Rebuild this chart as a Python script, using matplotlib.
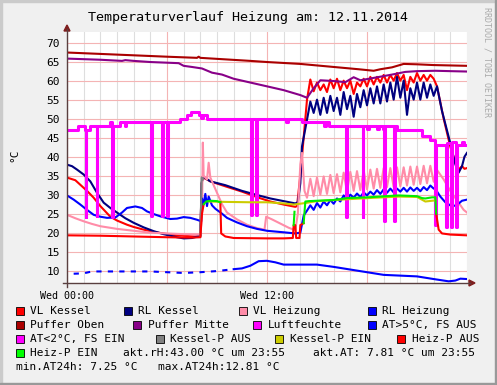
import matplotlib
matplotlib.use("Agg")
import matplotlib.pyplot as plt
import numpy as np
from matplotlib.patches import Rectangle, Polygon
from matplotlib.lines import Line2D
from matplotlib.ticker import MultipleLocator, FixedLocator

plt.rcParams['font.family'] = ['DejaVu Sans Mono']

W, H = 497, 385

# ---- data (hours since Wed 00:00, degrees C / %) ----
vl_kessel_t = [0, 0.5, 0.8, 1.2, 1.6, 2.0, 2.6, 3.0, 3.6, 4.0, 4.6, 5.2, 6.2, 7.0, 7.6, 8.0,
               8.08, 8.15, 8.4, 8.6, 9.5, 10.5, 11.5, 12.2, 13.0, 13.7, 13.8, 14.0, 14.2, 14.4]
vl_kessel_v = [34.5, 33.8, 32.6, 31.0, 29.2, 27.0, 24.2, 23.2, 22.1, 21.5, 20.8, 20.2, 19.5, 19.2, 19.0, 19.0,
               33.0, 34.5, 34.0, 33.5, 32.2, 30.8, 29.2, 28.2, 27.4, 26.8, 27.0, 35.0, 45.0, 55.0]
vl_kessel_noisy = [60.3, 57.2, 59.5, 57.5, 59.0, 57.0, 60.3, 58.0, 60.5, 57.5, 60.0, 58.0, 60.0,
                   56.5, 59.5, 58.5, 60.5, 58.5, 61.0, 59.0, 61.0, 59.5, 61.5, 59.5, 61.5, 60.0,
                   62.0, 60.0, 61.5, 57.5, 61.0, 59.5, 62.0, 60.0, 61.5, 60.0, 61.5, 60.5, 58.5]
vl_kessel_tail_t = [22.6, 23.0, 23.3, 23.5, 23.7, 23.85, 24.0]
vl_kessel_tail_v = [50.0, 42.6, 38.5, 36.6, 37.5, 36.8, 37.0]

rl_kessel_t = [0, 0.3, 0.6, 1.0, 1.4, 1.8, 2.2, 2.6, 3.0, 3.5, 4.0, 4.6, 5.2, 5.8, 6.6, 7.0, 7.5, 8.0,
               8.08, 8.15, 8.6, 9.5, 10.5, 11.5, 12.2, 13.0, 13.7, 13.85, 14.0, 14.1, 14.4]
rl_kessel_v = [37.9, 37.5, 36.6, 35.3, 33.5, 30.5, 27.9, 26.5, 25.3, 23.8, 22.6, 21.4, 20.4, 19.6, 18.8, 18.5, 18.6, 19.2,
               33.0, 34.8, 33.5, 32.5, 31.0, 29.8, 29.0, 28.3, 27.7, 28.0, 33.0, 42.7, 49.7]
rl_kessel_noisy = [54.5, 51.5, 55.0, 51.0, 55.5, 51.5, 56.0, 52.0, 55.5, 51.0, 57.0, 52.5, 56.0,
                   50.5, 56.5, 53.0, 57.5, 53.5, 58.0, 54.0, 58.5, 54.0, 59.0, 54.5, 59.5, 55.0,
                   61.0, 55.5, 60.0, 51.0, 58.0, 55.0, 59.5, 55.0, 59.5, 55.5, 59.0, 56.0, 58.5]
rl_kessel_tail_t = [22.5, 23.0, 23.3, 23.5, 23.7, 23.85, 24.0]
rl_kessel_tail_v = [52.0, 43.5, 38.0, 35.8, 37.5, 40.0, 41.0]
kessel_noisy_t = np.arange(14.6, 22.21, 0.2)

vl_heiz_t = [0, 0.5, 1, 1.5, 2, 3, 4, 5, 6, 7, 8.0, 8.1, 8.15, 8.2, 8.3, 8.4, 8.5, 8.6, 8.8, 9.0, 9.3,
             9.6, 10.2, 10.8, 11.4, 11.85, 11.95, 12.3, 12.8, 13.3, 13.6, 13.7, 13.85, 14.0, 14.1, 14.25]
vl_heiz_v = [24.7, 23.8, 23.0, 22.3, 21.7, 21.0, 20.5, 20.0, 19.8, 19.6, 19.5, 25.0, 43.7, 35.0, 34.5, 34.0, 38.4, 34.5, 32.5, 30.5, 27.5,
             25.3, 23.5, 22.1, 21.2, 20.8, 24.2, 23.5, 22.4, 21.3, 20.8, 20.8, 25.0, 38.0, 41.0, 31.0]
vl_heiz_noisy = [29.2, 34.2, 29.6, 34.5, 30.0, 34.8, 30.2, 35.2, 30.4, 35.4, 30.6, 35.8, 30.8,
                 36.0, 31.0, 36.2, 31.2, 36.4, 31.4, 36.6, 31.6, 36.8, 31.8, 37.0, 32.0, 37.0,
                 32.0, 37.2, 32.2, 37.2, 32.4, 37.4, 32.6, 37.4, 32.8, 37.6, 33.0, 37.6, 33.4]
vl_heiz_tail_t = [22.2, 22.6, 23.0, 23.4, 23.8, 24.0]
vl_heiz_tail_v = [36.5, 34.0, 31.0, 28.5, 26.0, 25.3]

rl_heiz_t = [0, 0.4, 0.8, 1.2, 1.6, 2.0, 2.4, 2.9, 3.3, 3.6, 4.1, 4.5, 4.8, 5.2, 5.6, 6.2, 6.6, 7.0, 7.4, 7.8,
             8.05, 8.1, 8.2, 8.3, 8.4, 8.5, 8.7, 8.9, 9.3, 9.6, 10.2, 10.8, 11.4, 12.0, 13.0, 13.7, 14.0, 14.2]
rl_heiz_v = [29.8, 28.7, 27.4, 26.0, 24.7, 24.2, 23.9, 24.0, 25.3, 26.5, 26.9, 26.5, 25.6, 24.9, 24.3, 23.6, 23.7, 24.1, 23.9, 23.4,
             23.0, 29.0, 27.5, 30.2, 27.0, 29.5, 27.2, 26.3, 25.0, 23.9, 22.7, 21.7, 21.0, 20.5, 20.1, 19.8, 20.0, 24.5]
rl_heiz_noisy = [25.8, 27.2, 26.0, 27.8, 26.6, 28.2, 27.2, 28.6, 27.6, 29.0, 28.2, 29.8, 28.8,
                 30.0, 29.2, 30.3, 29.4, 30.6, 29.8, 30.8, 30.0, 31.2, 30.2, 31.4, 30.5, 31.6,
                 30.6, 31.6, 30.8, 31.8, 30.8, 31.9, 31.0, 31.8, 30.9, 32.0, 31.2, 32.4, 31.6]
rl_heiz_tail_t = [22.1, 22.4, 22.7, 23.1, 23.4, 23.7, 24.0]
rl_heiz_tail_v = [31.5, 29.5, 28.0, 26.9, 27.3, 28.4, 28.7]
heiz_noisy_t = np.arange(14.4, 22.01, 0.2)

puffer_oben_t = [0, 6, 7.8, 7.9, 8.0, 11, 12, 14, 16, 17.5, 18.4, 18.8, 19.5, 20.2, 21, 22, 23, 24]
puffer_oben_v = [67.4, 66.3, 66.0, 66.3, 66.0, 65.2, 64.9, 64.4, 63.6, 63.0, 62.6, 63.0, 63.5, 64.4, 64.3, 64.1, 64.0, 63.9]

puffer_mitte_t = [0, 2, 3.3, 3.5, 4, 5, 6.7, 7.0, 7.5, 8.1, 8.7, 9.3, 10, 11, 12.2, 13, 14.0, 14.4, 14.8,
                  15.2, 16.0, 16.7, 17.2, 17.6, 18.5, 19.5, 20.3, 21, 22.1, 23, 24]
puffer_mitte_v = [65.8, 65.5, 65.2, 65.4, 65.2, 64.9, 64.6, 63.9, 63.6, 63.2, 62.1, 61.6, 60.5, 59.5, 58.3, 57.5, 56.2, 55.5, 58.0,
                  60.1, 59.9, 59.6, 60.9, 60.1, 60.8, 61.6, 62.3, 62.5, 62.6, 62.5, 62.4]

luft_t = [0, 0.65, 1.1, 1.12, 1.16, 1.4, 1.78, 1.82, 2.55, 2.7, 2.72, 2.76, 3.2, 3.45, 3.55, 5.05, 5.09,
          5.7, 5.74, 6.0, 6.04, 6.8, 7.2, 7.45, 7.9, 8.05, 8.15, 8.4, 11.05, 11.09, 11.35, 11.39, 13.15, 13.25,
          14.1, 15.45, 15.55, 15.7, 16.75, 16.79, 17.75, 17.79, 18.0, 18.1, 18.6, 18.7, 18.95, 19.05, 19.09,
          19.65, 19.69, 19.8, 21.3, 21.8, 22.1, 22.14, 22.75, 22.79, 23.05, 23.09, 23.35, 23.39, 23.7, 23.8, 24.0]
luft_v = [47, 48, 47, 24, 47, 48, 24.3, 48, 49, 48, 24, 48, 49, 48, 49, 24.3, 49,
          24.3, 49, 24.3, 49, 50, 51, 51.8, 51, 50.2, 51, 50, 24.7, 50, 24.7, 50, 49, 50,
          49, 48, 49, 48, 24, 48, 24, 48, 47.2, 48, 47.2, 48, 47.2, 23.2, 48,
          23.2, 48, 47, 45.5, 44.5, 22.1, 43.2, 21.6, 43.5, 21.6, 43.8, 21.6, 43.2, 43.8, 43.0, 43.0]

at_t = [0.4, 1.0, 1.5, 3, 4, 5, 6, 7, 8, 9, 10, 10.5, 11, 11.5, 12.0, 12.5, 13, 14, 15, 16, 17, 18,
        19, 20, 21, 22, 22.9, 23.3, 23.6, 24]
at_v = [9.2, 9.3, 9.8, 9.8, 9.8, 9.8, 9.6, 9.4, 9.6, 9.9, 10.4, 10.6, 11.3, 12.5, 12.6, 12.2, 11.6, 11.6, 11.6, 11.0, 10.3, 9.6,
        8.9, 8.7, 8.5, 7.8, 7.2, 7.4, 7.9, 7.8]

kessel_p_aus_t = [8.0, 8.08, 8.15]
kessel_p_aus_v = [19.0, 34.5, 34.0]

kessel_p_ein_t = [8.5, 9.5, 11.0, 12.0, 13.0, 13.6, 14.3, 15.0, 16.8, 18.5, 19.9, 21.0, 21.5, 22.1]
kessel_p_ein_v = [28.2, 28.1, 28.0, 28.0, 27.7, 27.4, 27.8, 28.3, 28.8, 29.2, 29.5, 29.4, 28.2, 28.5]

heiz_p_aus_t = [0, 2, 4, 6, 7.5, 8.0, 8.1, 8.2, None, 9.2, 9.25, 9.5, 10, 12, 13.0, 13.55, 13.6, 13.65, None,
                13.7, 13.75, 13.95, 14.0, 14.2, None, 22.15, 22.3, 22.5, 23, 24]
heiz_p_aus_v = [19.3, 19.2, 19.0, 18.8, 18.7, 18.8, 25.0, 27.5, None, 28.0, 19.8, 19.0, 18.6, 18.5, 18.5, 18.6, 22.0, 22.0, None,
                21.8, 18.6, 18.6, 22.0, 22.5, None, 25.0, 20.8, 19.8, 19.5, 19.3]

heiz_p_ein_t = [8.2, 8.35, 8.6, 9.0, 9.2, None, 13.6, 13.65, None, 14.2, 14.3, 14.5, 16.0, 16.8, 18.0, 19.9,
                21.0, 21.3, 21.5, 21.9, 22.1, 22.15]
heiz_p_ein_v = [27.5, 28.2, 28.4, 28.3, 28.0, None, 22.0, 25.5, None, 22.5, 28.2, 28.3, 28.6, 29.1, 29.3, 29.8,
                29.6, 29.1, 29.0, 29.3, 29.3, 25.0]

rh_now = 43.00
at_now = 7.81
at_min = 7.25
at_max = 12.81

C_VLK = '#ff0000'
C_RLK = '#000080'
C_VLH = '#ff8ca8'
C_RLH = '#0000ff'
C_PO = '#aa0000'
C_PM = '#880088'
C_LF = '#ff00ff'
C_KPA = '#808080'
C_KPE = '#cccc00'
C_HPE = '#00ee00'


def seg(t, v):
    t = np.array([np.nan if a is None else a for a in t], dtype=float)
    v = np.array([np.nan if a is None else a for a in v], dtype=float)
    return t, v


fig = plt.figure(figsize=(W / 100, H / 100), dpi=100, facecolor='#f0f0f0')
ax = fig.add_axes([67 / W, 102 / H, 400 / W, 251 / H])
ax.set_facecolor('white')

lw = 1.5
ax.plot(np.concatenate([vl_kessel_t, kessel_noisy_t, vl_kessel_tail_t]),
        np.concatenate([vl_kessel_v, vl_kessel_noisy, vl_kessel_tail_v]), color=C_VLK, lw=lw)
ax.plot(np.concatenate([rl_kessel_t, kessel_noisy_t, rl_kessel_tail_t]),
        np.concatenate([rl_kessel_v, rl_kessel_noisy, rl_kessel_tail_v]), color=C_RLK, lw=lw)
ax.plot(np.concatenate([vl_heiz_t, heiz_noisy_t, vl_heiz_tail_t]),
        np.concatenate([vl_heiz_v, vl_heiz_noisy, vl_heiz_tail_v]), color=C_VLH, lw=lw)
ax.plot(np.concatenate([rl_heiz_t, heiz_noisy_t, rl_heiz_tail_t]),
        np.concatenate([rl_heiz_v, rl_heiz_noisy, rl_heiz_tail_v]), color=C_RLH, lw=lw)
ax.plot(puffer_oben_t, puffer_oben_v, color=C_PO, lw=lw)
ax.plot(puffer_mitte_t, puffer_mitte_v, color=C_PM, lw=lw)
ax.plot(luft_t, luft_v, color=C_LF, lw=2.2, drawstyle='steps-post')
at_t = np.array(at_t)
at_v = np.array(at_v)
early = at_t <= 10
ax.plot(at_t[early], at_v[early], color=C_RLH, lw=lw, ls=(0, (2.5, 3)))
ax.plot(at_t[at_t >= 10], at_v[at_t >= 10], color=C_RLH, lw=lw)
ax.plot(kessel_p_aus_t, kessel_p_aus_v, color=C_KPA, lw=lw)
ax.plot(kessel_p_ein_t, kessel_p_ein_v, color=C_KPE, lw=lw)
ax.plot(*seg(heiz_p_aus_t, heiz_p_aus_v), color=C_VLK, lw=lw)
ax.plot(*seg(heiz_p_ein_t, heiz_p_ein_v), color=C_HPE, lw=lw)

ax.set_xlim(0, 24)
ax.set_ylim(6.76, 72.8)
ax.xaxis.set_major_locator(FixedLocator([0, 6, 12, 18]))
ax.set_xticklabels(['Wed 00:00', '', 'Wed 12:00', ''])
ax.xaxis.set_minor_locator(MultipleLocator(1))
ax.set_yticks(np.arange(10, 71, 5))
ax.tick_params(axis='both', which='both', length=0)
ax.tick_params(axis='x', labelsize=7.2, pad=6)
ax.tick_params(axis='y', labelsize=8, pad=5)
ax.grid(which='minor', axis='x', color='#dedede', lw=0.8)
ax.grid(which='major', axis='both', color='#f4b4b4', lw=0.8)
ax.set_axisbelow(True)
for s in ax.spines.values():
    s.set_visible(False)


def fx(x):
    return x / W


def fy(y):
    return 1 - y / H


axis_col = '#5a4040'
arrow_col = '#7f1f1f'
fig.add_artist(Line2D([fx(67), fx(67)], [fy(287), fy(29)], color=axis_col, lw=1))
fig.add_artist(Line2D([fx(63), fx(470)], [fy(283), fy(283)], color=axis_col, lw=1))
fig.add_artist(Polygon([(fx(64), fy(31)), (fx(70), fy(31)), (fx(67), fy(25))], closed=True,
                       transform=fig.transFigure, color=arrow_col))
fig.add_artist(Polygon([(fx(469), fy(280)), (fx(469), fy(286)), (fx(475), fy(283))], closed=True,
                       transform=fig.transFigure, color=arrow_col))

# frame
fig.add_artist(Rectangle((0, fy(2)), 1, 2 / H, transform=fig.transFigure, color='#cbcbcb'))
fig.add_artist(Rectangle((0, 0), 2 / W, 1, transform=fig.transFigure, color='#cbcbcb'))
fig.add_artist(Rectangle((0, 0), 1, 2 / H, transform=fig.transFigure, color='#999999'))
fig.add_artist(Rectangle((fx(W - 2), 0), 2 / W, 1, transform=fig.transFigure, color='#999999'))

fig.text(fx(248), fy(17), 'Temperaturverlauf Heizung am: 12.11.2014', ha='center', va='center', fontsize=9.6)
fig.text(fx(14), fy(155), '°C', rotation=90, ha='center', va='center', fontsize=8)
fig.text(fx(487), fy(62), 'RRDTOOL / TOBI OETIKER', rotation=270, ha='center', va='center',
         fontsize=6, color='#aaaaaa')

legend_rows = [
    (311, [(16, C_VLK, 'VL Kessel'), (124, C_RLK, 'RL Kessel'), (239, C_VLH, 'VL Heizung'),
           (368, C_RLH, 'RL Heizung')]),
    (325, [(16, C_PO, 'Puffer Oben'), (133, C_PM, 'Puffer Mitte'), (253, C_LF, 'Luftfeuchte'),
           (368, C_RLH, 'AT>5°C, FS AUS')]),
    (339, [(16, C_LF, 'AT<2°C, FS EIN'), (156, C_KPA, 'Kessel-P AUS'), (275, C_KPE, 'Kessel-P EIN'),
           (397, C_VLK, 'Heiz-P AUS')]),
    (353, [(16, '#00ff00', 'Heiz-P EIN')]),
]
for y, items in legend_rows:
    for x, col, label in items:
        fig.add_artist(Rectangle((fx(x), fy(y + 4)), 8 / W, 8 / H, transform=fig.transFigure,
                                 facecolor=col, edgecolor='black', lw=0.6))
        fig.text(fx(x + 14.5), fy(y), label, va='center', ha='left', fontsize=8)

fig.text(fx(123), fy(353), 'akt.rH:%.2f °C um 23:55' % rh_now, va='center', fontsize=8)
fig.text(fx(313), fy(353), 'akt.AT:%5.2f °C um 23:55' % at_now, va='center', fontsize=8)
fig.text(fx(16), fy(367), 'min.AT24h:%5.2f °C' % at_min, va='center', fontsize=8)
fig.text(fx(158), fy(367), 'max.AT24h:%5.2f °C' % at_max, va='center', fontsize=8)

fig.savefig('out.png', dpi=100, facecolor=fig.get_facecolor())
